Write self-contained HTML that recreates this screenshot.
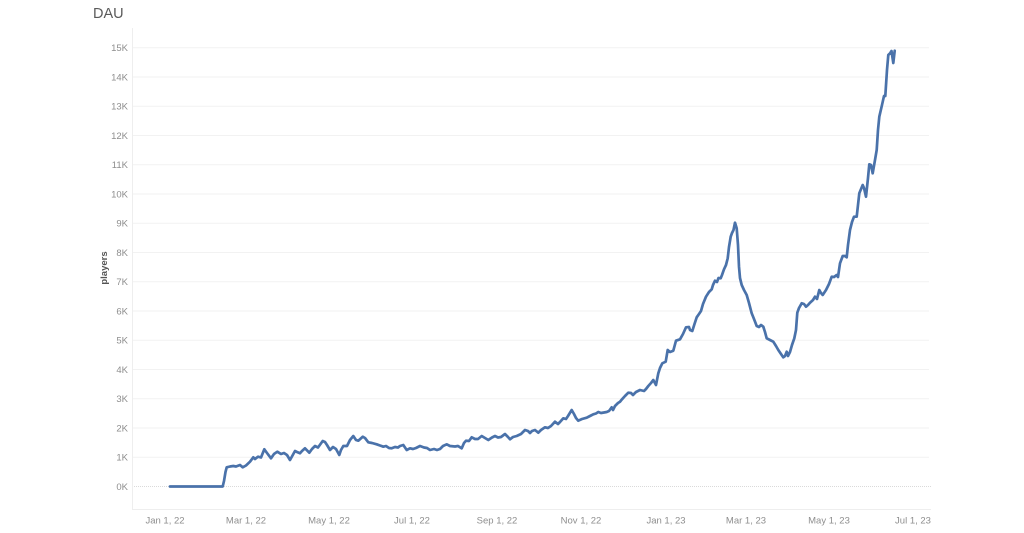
<!DOCTYPE html>
<html>
<head>
<meta charset="utf-8">
<style>
html,body{margin:0;padding:0;background:#fff;}
body{width:1024px;height:533px;overflow:hidden;}
svg{display:block;}
text{font-family:"Liberation Sans",sans-serif;}
</style>
</head>
<body>
<svg width="1024" height="533" viewBox="0 0 1024 533" xmlns="http://www.w3.org/2000/svg">
<rect width="1024" height="533" fill="#fff"/>
<text x="93" y="18" font-size="14.5" fill="#5a5a5a">DAU</text>
<g stroke="#f2f2f2" stroke-width="1">
<line x1="132" y1="47.7" x2="929" y2="47.7"/>
<line x1="132" y1="77" x2="929" y2="77"/>
<line x1="132" y1="106.2" x2="929" y2="106.2"/>
<line x1="132" y1="135.5" x2="929" y2="135.5"/>
<line x1="132" y1="164.7" x2="929" y2="164.7"/>
<line x1="132" y1="194" x2="929" y2="194"/>
<line x1="132" y1="223.2" x2="929" y2="223.2"/>
<line x1="132" y1="252.5" x2="929" y2="252.5"/>
<line x1="132" y1="281.7" x2="929" y2="281.7"/>
<line x1="132" y1="311" x2="929" y2="311"/>
<line x1="132" y1="340.2" x2="929" y2="340.2"/>
<line x1="132" y1="369.5" x2="929" y2="369.5"/>
<line x1="132" y1="398.7" x2="929" y2="398.7"/>
<line x1="132" y1="428" x2="929" y2="428"/>
<line x1="132" y1="457.2" x2="929" y2="457.2"/>
</g>
<line x1="132" y1="486.5" x2="931" y2="486.5" stroke="#dadada" stroke-width="1" stroke-dasharray="1,1"/>
<line x1="132.5" y1="28" x2="132.5" y2="509" stroke="#eeeeee" stroke-width="1"/>
<line x1="132" y1="509.5" x2="931" y2="509.5" stroke="#eeeeee" stroke-width="1"/>
<g font-size="9.5" fill="#8e8e8e" text-anchor="end">
<text x="128" y="51">15K</text>
<text x="128" y="80.3">14K</text>
<text x="128" y="109.5">13K</text>
<text x="128" y="138.8">12K</text>
<text x="128" y="168">11K</text>
<text x="128" y="197.3">10K</text>
<text x="128" y="226.5">9K</text>
<text x="128" y="255.8">8K</text>
<text x="128" y="285">7K</text>
<text x="128" y="314.3">6K</text>
<text x="128" y="343.5">5K</text>
<text x="128" y="372.8">4K</text>
<text x="128" y="402">3K</text>
<text x="128" y="431.3">2K</text>
<text x="128" y="460.5">1K</text>
<text x="128" y="489.8">0K</text>
</g>
<text transform="translate(107,268) rotate(-90)" font-size="9.5" font-weight="bold" fill="#555" text-anchor="middle">players</text>
<g font-size="9.5" fill="#8e8e8e" text-anchor="middle">
<text x="165" y="523.5">Jan 1, 22</text>
<text x="246" y="523.5">Mar 1, 22</text>
<text x="329" y="523.5">May 1, 22</text>
<text x="412" y="523.5">Jul 1, 22</text>
<text x="497" y="523.5">Sep 1, 22</text>
<text x="581" y="523.5">Nov 1, 22</text>
<text x="666" y="523.5">Jan 1, 23</text>
<text x="746" y="523.5">Mar 1, 23</text>
<text x="829" y="523.5">May 1, 23</text>
<text x="913" y="523.5">Jul 1, 23</text>
</g>
<polyline fill="none" stroke="#4a72aa" stroke-width="2.7" stroke-linejoin="round" stroke-linecap="round" points="
170,486.5 222.7,486.5 224,481 225.5,472 226.7,467.3 230,466.5 233.3,466 236,466.5 240,465 242.7,467.3 246,465.5 250,461.7 253.3,457.3 255,459 258,456.7 261,457.5 264.3,449.3 267,453 271,458.3 274,454 277.3,451.7 281,454 284,453 287,455 290,460 295,451 297,452 300,453.3 302,451 305,448.3 309.3,452.7 312,449 315,446 318,447.5 322.7,441 325,442 327,445 330,450 333,447 336,449 339.3,455 341,450 343.3,446 347,446 350,440 353.3,436 356,440 358.3,440.7 362.7,436.7 365,438 368.3,442.3 372,443 376.7,444.3 380,445.5 383.3,446.7 386,446 389,448 391.7,448.3 395,447 398,447.5 400,446 403.3,445 406.7,450 410,448.3 413,449 416,448 420,446 424,447.5 427,448 430,450 434,449 437,450 440,449 443,446 446.7,444.3 450,446 455,446.5 458,446 461.7,448.3 464,443 466,440.7 469,441 471.7,437.3 475,439 478,439 481.7,436 485,438 488.3,440 492,437.5 495,436 498,437.5 501,437 505,434 508,437 510,439.3 513,437 516.7,436 521,434 525,430 528,431 530,433 532,431 535,430 538.3,432.7 541,430 545,427.3 548,428 551,426 555,421.7 558,424 560,422 563.3,418.3 566,419 568,416 571.7,410 574,414 576,418 578.3,420.7 582,419 586.7,417.7 590,416 593.3,414.3 596,413.5 598.3,412 601,413 604,412.5 606.7,412 609,411 611.7,407.3 613,410 615,406 618,403 620,401.7 622,399.3 625,396 628.3,392.7 631,393 633,395 636,392 640,390 644,391 646,389 648.3,386 651,383 653.3,380 656,385 658.3,373.3 660,368 662.3,363.3 665.7,361.7 667.7,350 670,352 673.3,350.7 676,340.7 680,339.3 683,334 686,327.3 689,327 690,330 692.3,331 694.5,324 696.7,317.3 699,314 701,311 703,304 706,296.7 709,292 711.7,289.3 713,285 715,280.7 717,282 718.5,278 720.7,278.3 722,275 724,269.3 726,265 727.7,258.3 729,247 730.7,236.7 732,233 733.5,230 735,222.7 736.7,228.3 738,245 739,266.7 740,278 741.7,285 744,290 746.7,295 749,303 751.7,313.3 754,319 756.7,326 759,327 761,325 763.3,326.7 765,332 766.7,338.3 770,340 773.3,341.7 776,346 778.3,350 781,354 783.3,357.3 785,356 786.7,351.7 788,356 790,352 792,345 794.3,338.3 796,330 797.3,312.7 799,308 801.7,303.3 804,304 806,306.7 808,305 810,302.7 813,300 815,296.7 817,299 819.3,290 821,293 822.7,295 826,290 829,284 831.7,276.7 834,277 836.7,275 838,277 840,263.3 842.7,256 845,256 846.7,257.3 848,245 850,230 852,222 854,216.7 856.7,216.7 858,205 859.3,193.3 862.7,185 864,188 866,196.7 868,178 869.3,164.3 871,165 872.7,173.3 875,160 876.7,150 878,130 879.3,116.7 882,105 884,96 885.3,96 887,70 888.3,55 890,53.3 891.5,51 893.3,63 894.7,50.7"/>
</svg>
</body>
</html>
